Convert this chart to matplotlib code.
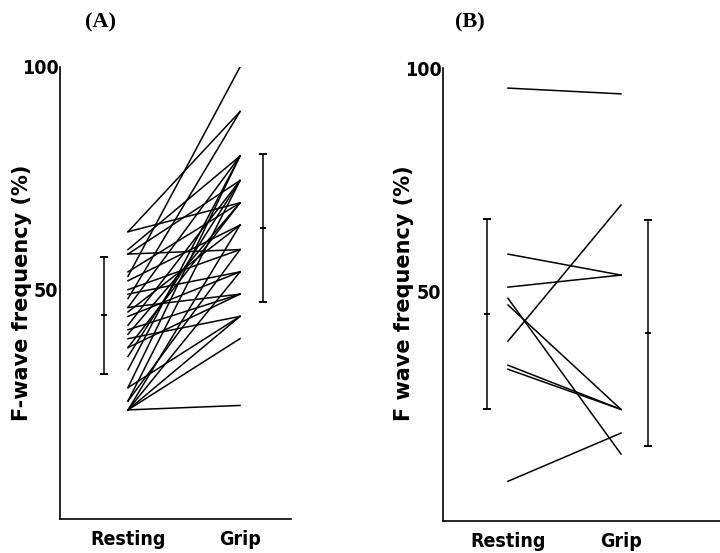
import matplotlib.pyplot as plt
from matplotlib import font_manager

# 데이터
conditions = ["Resting", "Grip"]

# (A) 안정 시 / 쥐기 시 F파 빈도 (%)
a_rest = [53, 63, 48, 59, 46, 32, 28, 58, 42, 35, 25, 63, 54, 37, 40,
          52, 45, 23, 58, 50, 25, 49, 44, 23, 46, 41, 37, 39, 28, 23, 23, 23]
a_grip = [100, 90, 90, 80, 80, 80, 80, 74.5, 74.5, 74.5, 74.5, 69.5, 69.5, 69.5, 69.5,
          64.5, 64.5, 64.5, 59, 59, 59, 54, 54, 54, 49, 49, 49, 44, 44, 44, 39, 24]
a_mean = [44.2, 63.9]
a_sd = [13.2, 16.6]

# (B)
b_rest = [95.5, 38.8, 58.3, 50.9, 48.4, 46.9, 33.4, 32.5, 7.4]
b_grip = [94.2, 69.3, 53.6, 53.6, 13.5, 23.5, 23.5, 23.5, 18.2]
b_mean = [44.8, 40.6]
b_sd = [21.3, 25.3]

names = {f.name for f in font_manager.fontManager.ttflist}
narrow = 'Liberation Sans Narrow' if 'Liberation Sans Narrow' in names else 'DejaVu Sans'

fig = plt.figure(figsize=(7.2, 5.53), dpi=100)

panels = [
    ([60/720, 1 - 519/553, 231/720, 452/553], (0.393, 2.455), (0.786, 2.205),
     a_rest, a_grip, a_mean, a_sd, 'F-wave frequency (%)', '(A)', 100/720, 22/720),
    ([443/720, 1 - 521/553, 277/720, 453/553], (0.425, 2.876), (0.814, 2.24),
     b_rest, b_grip, b_mean, b_sd, 'F wave frequency (%)', '(B)', 470/720, 404/720),
]

for rect, xlim, ebx, rest, grip, mean, sd, ylab, title, tx, lx in panels:
    ax = fig.add_axes(rect)
    for r, g in zip(rest, grip):
        ax.plot([1, 2], [r, g], color='black', lw=1.1)
    for x, m, s in zip(ebx, mean, sd):
        ax.errorbar(x, m, yerr=s, fmt='none', ecolor='black', elinewidth=1.1,
                    capsize=3, capthick=1.4)
        ax.plot([x], [m], marker='_', color='black', ms=5, mew=1.4)
    ax.set_xlim(*xlim)
    ax.set_ylim(-1.5, 100)
    for side in ['top', 'right']:
        ax.spines[side].set_visible(False)
    for side in ['left', 'bottom']:
        ax.spines[side].set_linewidth(1.2)
    ax.set_yticks([50, 100])
    ax.set_yticklabels(['50', '100'], fontsize=14, fontweight='bold',
                       family=[narrow, 'DejaVu Sans'], fontstretch='condensed')
    ax.tick_params(axis='y', length=0, pad=1)
    ax.set_xticks([1, 2])
    ax.set_xticklabels(conditions, fontsize=14, fontweight='bold',
                       family=[narrow, 'DejaVu Sans'], fontstretch='condensed')
    ax.tick_params(axis='x', length=0, pad=8)
    fig.text(lx, 0.47, ylab, rotation=90, ha='center', va='center',
             fontsize=15, fontweight='bold')
    fig.text(tx, 1 - 22/553, title, ha='center', va='center', fontsize=16,
             fontweight='bold', family=['Liberation Serif', 'DejaVu Serif'])

fig.savefig('out.png', dpi=100)
